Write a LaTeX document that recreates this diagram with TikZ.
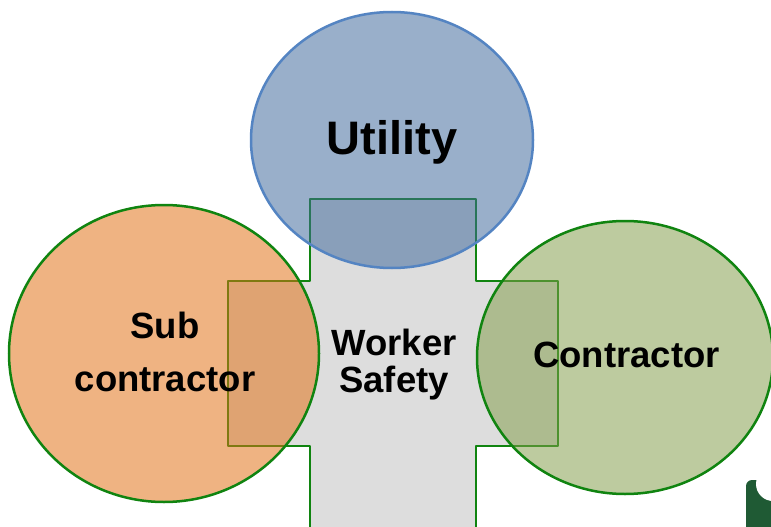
\documentclass[tikz,border=0pt]{standalone}
\usepackage{fontspec}
\setmainfont{Liberation Sans}
\usepackage{tkz-euclide}
\definecolor{crossgray}{HTML}{DDDDDD}
\definecolor{ringgreen}{RGB}{16,132,16}
\definecolor{utilline}{RGB}{84,132,194}
\definecolor{utilfill}{RGB}{64,104,155}
\definecolor{subfill}{RGB}{226,113,19}
\definecolor{confill}{RGB}{132,157,74}
\definecolor{logogreen}{RGB}{31,90,52}

\begin{document}
\begin{tikzpicture}[x=1pt,y=-1pt,
    bubble/.style={line width=2.5pt,fill opacity=0.53},
    word/.style={font=\bfseries\fontsize{36.5}{36.6}\selectfont,align=center,inner sep=0pt}]
                \fill[white] (0,0) rectangle (771,527);
                \clip (0,0) rectangle (771,527);
                \tkzDefPoints{310/199/A,476/199/B,476/281/C,558/281/D,558/446/E,476/446/F}
                \tkzDefPoints{476/540/G,310/540/H,310/446/I,228/446/J,228/281/K,310/281/L}
                \tkzDefPoints{392/140/U,164/353.5/S,625/357.5/T}
                \tkzDrawPolygon[draw=ringgreen,fill=crossgray,line width=2.8pt](A,B,C,D,E,F,G,H,I,J,K,L)
                \draw[bubble,draw=utilline,fill=utilfill] (U) ellipse [x radius=141,y radius=128];
                \draw[bubble,draw=ringgreen,fill=subfill] (S) ellipse [x radius=155,y radius=148.5];
                \draw[bubble,draw=ringgreen,fill=confill] (T) ellipse [x radius=148,y radius=136.5];
                \node[word,font=\bfseries\fontsize{47}{47}\selectfont,anchor=base] (utility) at (392,154.3) {Utility};
                \node[word,font=\bfseries\fontsize{36.5}{53.7}\selectfont,anchor=base] (sub) at (165,391.7) {Sub\\contractor};
                \node[word,anchor=base] (worker) at (394,392.3) {Worker\\Safety};
                \node[word,anchor=base] (contractor) at (626.5,367.7) {Contractor};
                \fill[logogreen,rounded corners=6pt] (746,535) -- (746,480) -- (785,480) -- (785,535) -- cycle;
                \fill[white] (773,484) circle [radius=17];
            \end{tikzpicture}
\end{document}
